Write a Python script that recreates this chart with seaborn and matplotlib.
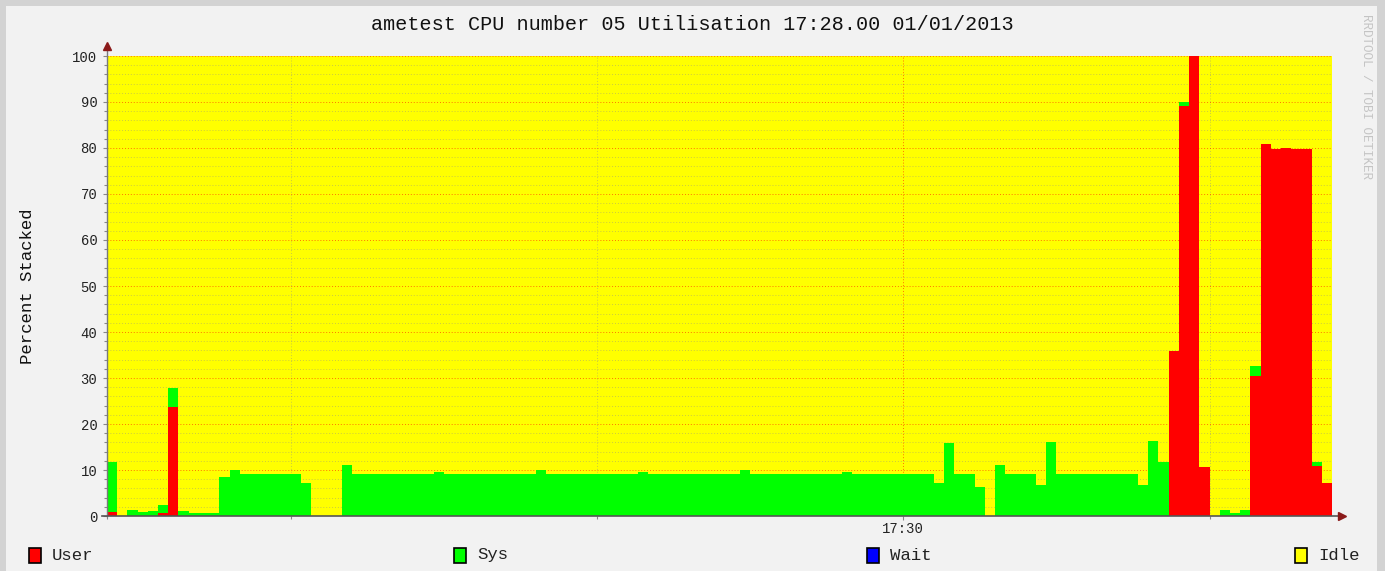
import numpy as np
import pandas as pd
import matplotlib
matplotlib.use('Agg')
import matplotlib.pyplot as plt
from matplotlib.patches import Rectangle
from matplotlib.lines import Line2D
import seaborn as sns

# one sample per second, 17:28:42 .. 17:30:41
seconds = list(range(120))

user = [0.8, 0, 0, 0, 0, 0.7, 23.8, 0, 0, 0,
        0, 0, 0, 0, 0, 0, 0, 0, 0, 0,
        0, 0, 0, 0, 0, 0, 0, 0, 0, 0,
        0, 0, 0, 0, 0, 0, 0, 0, 0, 0,
        0, 0, 0, 0, 0, 0, 0, 0, 0, 0,
        0, 0, 0, 0, 0, 0, 0, 0, 0, 0,
        0, 0, 0, 0, 0, 0, 0, 0, 0, 0,
        0, 0, 0, 0, 0, 0, 0, 0, 0, 0,
        0, 0, 0, 0, 0, 0, 0, 0, 0, 0,
        0, 0, 0, 0, 0, 0, 0, 0, 0, 0,
        0, 0, 0, 0, 35.8, 89.1, 100, 10.7, 0, 0,
        0, 0, 30.4, 80.8, 79.8, 80.1, 79.8, 79.8, 10.9, 7.1]

sys_ = [10.9, 0, 1.4, 0.8, 1.1, 1.7, 4.0, 1.1, 0.7, 0.7,
        0.7, 8.4, 10.1, 9.1, 9.1, 9.1, 9.1, 9.1, 9.1, 7.1,
        0, 0, 0, 11.1, 9.1, 9.1, 9.1, 9.1, 9.1, 9.1,
        9.1, 9.1, 9.5, 9.1, 9.1, 9.1, 9.1, 9.1, 9.1, 9.1,
        9.1, 9.1, 10.1, 9.1, 9.1, 9.1, 9.1, 9.1, 9.1, 9.1,
        9.1, 9.1, 9.5, 9.1, 9.1, 9.1, 9.1, 9.1, 9.1, 9.1,
        9.1, 9.1, 10.1, 9.1, 9.1, 9.1, 9.1, 9.1, 9.1, 9.1,
        9.1, 9.1, 9.5, 9.1, 9.1, 9.1, 9.1, 9.1, 9.1, 9.1,
        9.1, 7.2, 15.8, 9.1, 9.1, 6.2, 0, 11.0, 9.1, 9.1,
        9.1, 6.7, 16.1, 9.1, 9.1, 9.1, 9.1, 9.1, 9.1, 9.1,
        9.1, 6.7, 16.4, 11.8, 0, 1.0, 0, 0, 0, 1.3,
        0.7, 1.3, 2.1, 0, 0, 0, 0, 0, 0.9, 0]

wait = [0] * 120

series_names = ['User', 'Sys', 'Wait', 'Idle']
colors = {'User': '#FF0000', 'Sys': '#00FF00', 'Wait': '#0000FF', 'Idle': '#FFFF00'}

idle = [round(100 - u - s - w, 2) for u, s, w in zip(user, sys_, wait)]

df = pd.concat([
    pd.DataFrame({'t': seconds, 'pct': user, 'series': 'User'}),
    pd.DataFrame({'t': seconds, 'pct': sys_, 'series': 'Sys'}),
    pd.DataFrame({'t': seconds, 'pct': wait, 'series': 'Wait'}),
    pd.DataFrame({'t': seconds, 'pct': idle, 'series': 'Idle'}),
])

W, H = 1385, 571
mono = 'Liberation Mono'
bg = '#F2F2F2'

fig = plt.figure(figsize=(W / 100, H / 100), dpi=100, facecolor=bg)
ax = fig.add_axes([107 / W, 55 / H, 1225 / W, 460 / H])
ax.set_facecolor(bg)

# last hue level ends up at the bottom of the stack
sns.histplot(df, x='t', weights='pct', hue='series',
             hue_order=['Idle', 'Wait', 'Sys', 'User'],
             multiple='stack', bins=120, binrange=(0, 120),
             element='step', fill=True, linewidth=0, alpha=1,
             palette=colors, legend=False, ax=ax)

# idle under the grid, the rest over it
for c in ax.collections:
    fc = c.get_facecolor()
    if len(fc) and tuple(np.round(fc[0][:3], 2)) == (1.0, 1.0, 0.0):
        c.set_zorder(0.2)
    else:
        c.set_zorder(1)
for ln in ax.lines:
    ln.set_visible(False)

ax.set_xlim(0, 120)
ax.set_ylim(0, 100)
ax.set_axisbelow(True)

ax.set_yticks(range(0, 101, 10))
ax.set_yticks(range(0, 101, 2), minor=True)
ax.set_xticks([78], ['17:30'])
ax.set_xticks([0, 18, 48, 78, 108], minor=True)

ax.grid(which='minor', color='#8C8C8C', linestyle=(0, (1, 2)), linewidth=0.7, alpha=0.45)
ax.grid(which='major', color='#FF0000', linestyle=(0, (1, 2)), linewidth=0.7, alpha=0.55)

ax.tick_params(which='both', direction='out', color='#888888', length=3, width=0.8)
ax.tick_params(which='minor', length=2)
ax.tick_params(labelsize=10, labelcolor='#222222', pad=4)
ax.tick_params(axis='x', pad=1)
for lab in ax.get_xticklabels() + ax.get_yticklabels():
    lab.set_family(mono)

ax.set_xlabel('')
ax.set_ylabel('Percent Stacked', family=mono, fontsize=12.5, color='#111111', labelpad=27)

for s in ['top', 'right', 'left', 'bottom']:
    ax.spines[s].set_visible(False)

# axes with arrows, RRD style
ax.add_line(Line2D([0, 0], [0, 1.022], transform=ax.transAxes, color='#7A7A7A',
                   lw=1, clip_on=False, zorder=3))
ax.add_line(Line2D([-0.004, 1.008], [0, 0], transform=ax.transAxes, color='#555555',
                   lw=1.2, clip_on=False, zorder=3))
ax.plot([0], [1.022], marker='^', color='#8B1A1A', markersize=6, transform=ax.transAxes,
        clip_on=False, zorder=4)
ax.plot([1.008], [0], marker='>', color='#8B1A1A', markersize=6, transform=ax.transAxes,
        clip_on=False, zorder=4)

fig.text(0.5, 1 - 25 / H, 'ametest CPU number 05 Utilisation 17:28.00 01/01/2013',
         ha='center', va='center', family=mono, fontsize=14.5, color='#111111')

fig.text(1366 / W, 1 - 14 / H, 'RRDTOOL / TOBI OETIKER', rotation=270,
         ha='center', va='top', family=mono, fontsize=9, color='#C4C4C4')

# legend row
leg_x = {'User': 29, 'Sys': 454, 'Wait': 867, 'Idle': 1295}
for name in series_names:
    x0 = leg_x[name]
    fig.add_artist(Rectangle((x0 / W, 8 / H), 12 / W, 15 / H, transform=fig.transFigure,
                             facecolor=colors[name], edgecolor='#000000', lw=1.2))
    fig.text((x0 + 23) / W, 16 / H, name, ha='left', va='center',
             family=mono, fontsize=12.5, color='#222222')

# frame round the image
fc = '#D3D3D3'
fig.add_artist(Rectangle((0, 0), 6 / W, 1, transform=fig.transFigure, facecolor=fc, lw=0))
fig.add_artist(Rectangle((0, 1 - 6 / H), 1, 6 / H, transform=fig.transFigure, facecolor=fc, lw=0))
fig.add_artist(Rectangle((1 - 8 / W, 0), 8 / W, 1, transform=fig.transFigure, facecolor=fc, lw=0))

fig.savefig('out.png', dpi=100, facecolor=bg)
